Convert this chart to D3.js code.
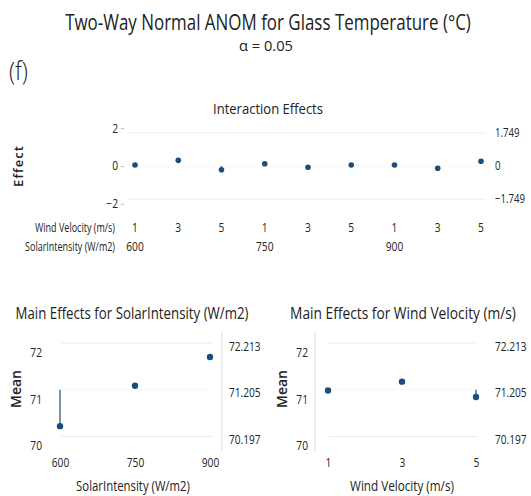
<!DOCTYPE html>
<html>
<head>
<meta charset="utf-8">
<script src="https://cdn.jsdelivr.net/npm/d3@7"></script>
<style>
  html, body { margin: 0; padding: 0; background: #fff; }
  text { font-family: "Open Sans", "Noto Sans", sans-serif; fill: #222; }
</style>
</head>
<body>
<div id="chart"></div>
<script>
// levels of the two factors
const windLevels = ["1", "3", "5"];
const solarLevels = ["600", "750", "900"];

// interaction effects, in order 600:1,3,5  750:1,3,5  900:1,3,5
const interactionEffects = [0.05, 0.3, -0.2, 0.12, -0.07, 0.05, 0.05, -0.12, 0.25];
const interactionLimits = [-1.749, 0, 1.749];
const interactionTicks = [-2, 0, 2];

// main effects (means) and decision limits
const solarMeans = [70.42, 71.29, 71.91];
const windMeans = [71.19, 71.38, 71.05];
const mainLimits = [70.197, 71.205, 72.213];
const meanTicks = [70, 71, 72];

const width = 531, height = 496;
const dotColor = "#1c4e7c", limitColor = "#ececec";

const svg = d3.select("#chart").append("svg")
    .attr("width", width).attr("height", height);

// the source font is narrow: texts are squeezed horizontally with a scale
function label(parent, x, y, str, size, opts = {}) {
    const g = parent.append("g").attr("transform", `translate(${x},${y})`);
    const t = g.append("text")
        .attr("text-anchor", opts.anchor || "middle")
        .style("font-size", size + "px")
        .style("font-weight", opts.weight || "normal")
        .text(str);
    let k = opts.k || 1;
    if (opts.w) k = opts.w / t.node().getComputedTextLength();
    t.attr("transform", `scale(${k},1)`);
    return t;
}
function squeeze(sel, k) {
    sel.attr("transform", function() {
        const x = +this.getAttribute("x") || 0;
        d3.select(this).attr("x", 0);
        return `translate(${x},0) scale(${k},1)`;
    });
    return sel;
}

// Titres
label(svg, 268, 30, "Two-Way Normal ANOM for Glass Temperature (°C)", 22, { w: 406 });
label(svg, 266, 51, "α = 0.05", 15, { w: 54 });
label(svg, 9, 80, "(f)", 25, { anchor: "start", weight: 300, k: 0.9 });

// ---------- Interaction effects ----------
label(svg, 268, 114, "Interaction Effects", 15, { w: 110 });

const xI = d3.scalePoint().domain(d3.range(interactionEffects.length)).range([135, 481]);
const yI = d3.scaleLinear().domain([-2, 2]).range([203.8, 128.2]);

const gI = svg.append("g");
gI.selectAll(".lim").data(interactionLimits).enter().append("line")
    .attr("x1", 128).attr("x2", 486)
    .attr("y1", d => yI(d)).attr("y2", d => yI(d))
    .attr("stroke", d => d === 0 ? "#f6f6f6" : limitColor).attr("stroke-width", 1);

const axL = gI.append("g").attr("transform", "translate(124,0)")
    .call(d3.axisLeft(yI).tickValues(interactionTicks).tickSize(3).tickFormat(d3.format("d")));
axL.select(".domain").remove();
axL.selectAll("line").attr("stroke", "#bbb");
axL.selectAll("text").style("font-size", "12px").attr("fill", "#222");
squeeze(axL.selectAll("text"), 0.85);

const axR = gI.append("g").attr("transform", "translate(492,0)")
    .call(d3.axisRight(yI).tickValues(interactionLimits).tickSize(0)
        .tickFormat(d => d === 0 ? "0" : d3.format(".3f")(d)));
axR.select(".domain").remove();
axR.selectAll("text").style("font-size", "12px").attr("fill", "#222");
squeeze(axR.selectAll("text"), 0.8);

gI.selectAll(".stem").data(interactionEffects.filter(d => d < 0).map(d => interactionEffects.indexOf(d)))
    .enter().append("line")
    .attr("x1", i => xI(i)).attr("x2", i => xI(i))
    .attr("y1", yI(0)).attr("y2", i => yI(interactionEffects[i]))
    .attr("stroke", dotColor).attr("stroke-width", 1);

gI.selectAll(".dot").data(interactionEffects).enter().append("circle")
    .attr("cx", (d, i) => xI(i)).attr("cy", d => yI(d))
    .attr("r", 2.8).attr("fill", dotColor);

svg.append("text").attr("transform", "translate(23,166) rotate(-90)")
    .attr("text-anchor", "middle").style("font-size", "13px").style("font-weight", "600")
    .style("letter-spacing", "1px").text("Effect");

// row labels under the interaction plot
label(svg, 115, 232, "Wind Velocity (m/s)", 12, { anchor: "end", w: 80 });
label(svg, 115, 251, "SolarIntensity (W/m2)", 12, { anchor: "end", w: 90 });

interactionEffects.forEach((d, i) =>
    label(svg, xI(i), 232, windLevels[i % 3], 12, { k: 0.85 }));
solarLevels.forEach((d, i) =>
    label(svg, xI(i * 3), 251, d, 12, { k: 0.85 }));

// ---------- Main effects panels ----------
const yM = d3.scaleLinear().domain([70.197, 72.213]).range([436.5, 343]);

function mainPanel(opts) {
    const g = svg.append("g");
    const x = d3.scalePoint().domain(opts.levels).range(opts.xRange);

    label(g, opts.titleX, 319, opts.title, 16, { w: opts.titleW });

    g.append("line").attr("x1", opts.frameX).attr("x2", opts.frameX)
        .attr("y1", 331).attr("y2", 451).attr("stroke", "#ddd");

    g.selectAll(".lim").data(mainLimits).enter().append("line")
        .attr("x1", opts.xRange[0] + 1).attr("x2", opts.xRange[1] + 2)
        .attr("y1", d => yM(d)).attr("y2", d => yM(d))
        .attr("stroke", d => d === mainLimits[1] ? "#f6f6f6" : limitColor);

    const ax = g.append("g").attr("transform", `translate(${opts.yAxisX},0)`)
        .call(d3.axisLeft(yM).tickValues(meanTicks).tickSize(0).tickFormat(d3.format("d")));
    ax.select(".domain").remove();
    ax.selectAll("text").style("font-size", "12px").attr("fill", "#222");
    squeeze(ax.selectAll("text"), 0.85);

    const axr = g.append("g").attr("transform", `translate(${opts.limX},3)`)
        .call(d3.axisRight(yM).tickValues(mainLimits).tickSize(0).tickFormat(d3.format(".3f")));
    axr.select(".domain").remove();
    axr.selectAll("text").style("font-size", "13px").attr("fill", "#222");
    squeeze(axr.selectAll("text"), 0.78);

    const axb = g.append("g").attr("transform", "translate(0,455)")
        .call(d3.axisBottom(x).tickSize(0));
    axb.select(".domain").remove();
    axb.selectAll("text").style("font-size", "12px").attr("fill", "#222");
    squeeze(axb.selectAll("text"), 0.85);

    label(g, opts.labelX, 491, opts.xLabel, 15, { w: opts.labelW });

    g.append("text").attr("transform", `translate(${opts.meanX},389) rotate(-90)`)
        .attr("text-anchor", "middle").style("font-size", "14px").style("font-weight", "600")
        .text("Mean");

    const pts = opts.levels.map((l, i) => ({ level: l, mean: opts.means[i] }));
    g.selectAll(".stem").data(pts.filter(p => p.mean < mainLimits[1])).enter().append("line")
        .attr("x1", p => x(p.level)).attr("x2", p => x(p.level))
        .attr("y1", yM(mainLimits[1])).attr("y2", p => yM(p.mean))
        .attr("stroke", dotColor).attr("stroke-width", 1.2);
    g.selectAll(".dot").data(pts).enter().append("circle")
        .attr("cx", p => x(p.level)).attr("cy", p => yM(p.mean))
        .attr("r", 3.2).attr("fill", dotColor);
}

mainPanel({
    levels: solarLevels, means: solarMeans, xRange: [60, 210],
    title: "Main Effects for SolarIntensity (W/m2)", titleX: 132, titleW: 233,
    xLabel: "SolarIntensity (W/m2)", labelX: 133, labelW: 114,
    frameX: 222, yAxisX: 45, limX: 226, meanX: 21
});
mainPanel({
    levels: windLevels, means: windMeans, xRange: [328, 476],
    title: "Main Effects for Wind Velocity (m/s)", titleX: 403, titleW: 226,
    xLabel: "Wind Velocity (m/s)", labelX: 402, labelW: 104,
    frameX: 315, yAxisX: 311, limX: 492, meanX: 287
});
</script>
</body>
</html>
